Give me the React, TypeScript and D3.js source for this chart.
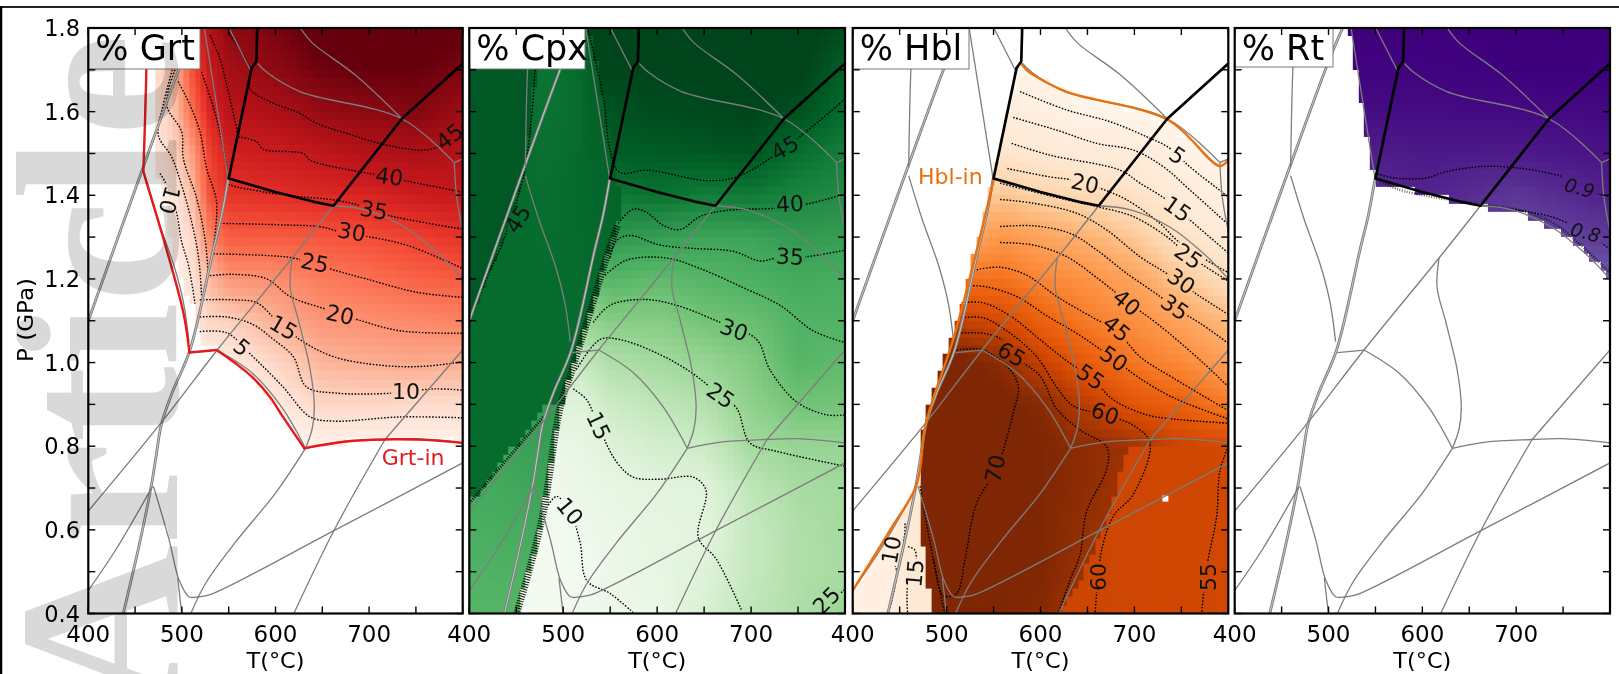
import React, { useMemo } from "react";
import * as d3 from "d3";

type Pt = [number, number];
const FONT = "'DejaVu Sans', sans-serif";

// ---------- shared phase-diagram lines [T, P]
const doubleLines: Pt[][] = [
  [[400, 1.1], [458.6, 1.467], [499, 1.714], [515, 1.8]],
  [[437.4, 0.4], [455, 0.57], [467.7, 0.71], [472, 0.77], [478.4, 0.855], [490, 0.93], [508.6, 1.03], [533.6, 1.27], [542.5, 1.353], [549.6, 1.44]],
];
const reactionLines: Pt[][] = [
  [[465, 1.8], [462, 1.7], [460.5, 1.58], [459.6, 1.467]],
  [[459.6, 1.447], [473.8, 1.344], [491.5, 1.232], [502, 1.14], [507.5, 1.05]],
  [[509.4, 1.024], [538, 1.03]],
  [[400, 0.645], [477.5, 0.855], [537.8, 1.03], [617.8, 1.25], [662, 1.375]],
  [[537.8, 1.03], [575, 0.975], [607, 0.892], [632, 0.795]],
  [[617.8, 1.25], [615.7, 1.18], [625, 1.097], [637, 0.984], [641.5, 0.893], [639, 0.84], [632, 0.795]],
  [[632, 0.795], [600, 0.688], [557, 0.57], [525.5, 0.473], [509.5, 0.4]],
  [[632, 0.795], [667.6, 0.81], [717, 0.816], [749, 0.818], [800, 0.808]],
  [[717, 0.816], [800, 1.03]],
  [[717, 0.816], [664, 0.605], [619.6, 0.4]],
  [[800, 0.76], [664, 0.6], [530, 0.445], [518, 0.44], [507.6, 0.44], [497, 0.48], [486.5, 0.575], [469.6, 0.704]],
  [[495.5, 0.485], [499.8, 0.4]],
  [[400, 0.455], [429.5, 0.553], [468.6, 0.704]],
  [[550.3, 1.8], [573, 1.7]],
  [[581, 1.715], [590.7, 1.694], [626, 1.648], [735, 1.583], [791, 1.478]],
  [[791, 1.478], [800, 1.487]],
  [[791, 1.478], [793.6, 1.395], [800, 1.313]],
  [[626.6, 1.8], [639, 1.765], [685, 1.688], [735, 1.583]],
  [[662, 1.375], [696, 1.365], [738.5, 1.323], [774, 1.26], [800, 1.2]],
  [[524, 1.8], [549.5, 1.44]],
];
const blackLines: Pt[][] = [
  [[580.5, 1.8], [579.5, 1.72], [574.5, 1.704], [550, 1.44], [600, 1.408], [640, 1.385], [662, 1.375], [735, 1.583], [800, 1.715]],
];

// ---------- Grt
const grtContours: Pt[][] = [
  [[551.3, 1.783], [572.7, 1.703], [572.7, 1.655], [594, 1.624], [626, 1.596], [644, 1.572], [676, 1.548], [715, 1.522], [754, 1.508], [772, 1.514], [790, 1.544], [800, 1.568]],
  [[560.3, 1.54], [580, 1.528], [587, 1.51], [629.7, 1.5], [637, 1.484], [690, 1.456], [711.6, 1.448], [736, 1.436], [799, 1.408]],
  [[549.6, 1.426], [558.5, 1.42], [612, 1.4], [665, 1.388], [694, 1.373], [718.7, 1.353], [800, 1.319]],
  [[540.7, 1.333], [612, 1.329], [647.5, 1.325], [669, 1.313], [694, 1.303], [740, 1.281], [800, 1.225]],
  [[533.6, 1.26], [590.6, 1.256], [619, 1.25], [656.5, 1.225], [697, 1.2], [751, 1.168], [800, 1.156]],
  [[526.5, 1.207], [555, 1.211], [590.6, 1.2], [615.5, 1.158], [654.7, 1.127], [690, 1.101], [733, 1.076], [800, 1.07]],
  [[519, 1.15], [555, 1.15], [580, 1.143], [601, 1.101], [626, 1.055], [662, 1.014], [715, 0.993], [758, 0.991], [800, 1.002]],
  [[519, 1.109], [548, 1.109], [576, 1.091], [598, 1.055], [619, 1.014], [633, 0.942], [665, 0.927], [726, 0.927], [769, 0.937], [800, 0.934]],
  [[519, 1.074], [548, 1.071], [576, 1.014], [608, 0.942], [637, 0.87], [662, 0.86], [733, 0.87], [800, 0.868]],
  [[476.6, 1.452], [482, 1.432], [494, 1.36], [499.7, 1.289], [507, 1.233], [514, 1.141]],
  [[489.7, 1.7], [480, 1.616], [474.8, 1.544], [489, 1.492], [499.7, 1.424], [508.6, 1.353], [517.5, 1.257], [521, 1.161]],
  [[492.6, 1.7], [483.7, 1.616], [499.7, 1.552], [501.5, 1.488], [515.7, 1.393], [524.6, 1.297], [528, 1.217]],
  [[496, 1.672], [508.6, 1.616], [519.3, 1.552], [526.4, 1.464], [537, 1.385], [534, 1.281]],
  [[521, 1.695], [531.7, 1.624], [540.6, 1.552], [548.5, 1.464]],
  [[530, 1.783], [540.6, 1.727], [549.5, 1.648], [560, 1.544]],
];
const grtLabels: [string, number, number, number][] = [
  ["10", 486.5, 1.389, 105], ["5", 563.8, 1.036, 40], ["15", 608.4, 1.083, 30], ["20", 669, 1.114, 12],
  ["25", 642, 1.238, 12], ["30", 681.4, 1.312, 10], ["35", 705, 1.364, 10], ["40", 721.6, 1.444, 8],
  ["45", 786, 1.54, -38], ["10", 739.5, 0.93, 0],
];
const grtInSegments: Pt[][] = [
  [[462, 1.8], [462, 1.7], [458.8, 1.457]],
  [[458.8, 1.457], [501.5, 1.12], [508, 1.024]],
  [[508, 1.024], [537, 1.03]],
  [[537, 1.03], [558, 0.997], [576.3, 0.963], [594, 0.918], [608, 0.87], [630.8, 0.795]],
  [[630.8, 0.795], [683, 0.813], [751, 0.816], [800, 0.808]],
];
const grtRegion: Pt[] = [[475, 1.8], [475, 1.72], [473, 1.45], [480, 1.4], [494, 1.22], [512, 1.13], [518, 1.07], [519, 1.04], [537, 1.03], [576, 0.963], [608, 0.87], [631, 0.795], [683, 0.813], [751, 0.816], [800, 0.808], [800, 1.8]];
const grtTemps = [470, 490, 510, 530, 550, 600, 650, 700, 750, 800];
const grtPress = [0.8, 0.9, 1.0, 1.1, 1.2, 1.3, 1.4, 1.5, 1.6, 1.7, 1.8];
const grtValues = [
  [0, 0, 0, 0, 0, 0, 2, 4, 5, 6, 7],
  [0, 0, 0, 1, 1, 2, 4, 8, 10, 12, 14],
  [0, 0, 1, 4, 5, 7, 12, 17, 25, 29, 33],
  [0, 0, 2, 8, 13, 22, 30, 32, 37, 40, 43],
  [0, 0, 3, 9, 19, 28, 34, 38, 42, 45, 48],
  [0, 3, 8, 15, 20, 28, 35, 39, 44, 48, 50],
  [1, 8, 14, 19, 23, 29, 36, 41, 47, 51, 54],
  [1, 8, 15, 20, 25, 30, 37, 43, 48, 52, 55],
  [1, 7, 16, 21, 27, 32, 39, 44, 49, 52, 55],
  [1, 7, 15, 22, 28, 34, 40, 43, 46, 50, 53],
];

// ---------- Cpx
const cpxContours: Pt[][] = [
  [[526, 1.8], [543, 1.63], [549.8, 1.508], [560, 1.455], [590, 1.46], [654, 1.435], [686, 1.445], [736, 1.513], [800, 1.63]],
  [[558.6, 1.333], [574.6, 1.367], [588.8, 1.359], [606.6, 1.328], [624.3, 1.318], [645.6, 1.349], [674, 1.364], [727, 1.369], [755.6, 1.377], [800, 1.403]],
  [[549.8, 1.251], [556.9, 1.292], [571, 1.304], [603, 1.281], [638.5, 1.273], [681, 1.266], [709.5, 1.243], [727, 1.25], [759, 1.253], [800, 1.269]],
  [[544.5, 1.209], [567.5, 1.245], [610, 1.25], [645.6, 1.225], [691.7, 1.179], [730.8, 1.137], [766, 1.076], [800, 1.048]],
  [[532, 1.096], [549.8, 1.137], [585.3, 1.151], [620.8, 1.137], [667, 1.096], [706, 1.055], [720, 0.983], [748.5, 0.906], [780.5, 0.875], [800, 0.875]],
  [[514, 0.983], [539, 1.055], [560.4, 1.055], [603, 1.019], [638.5, 0.973], [667, 0.921], [684.6, 0.891], [698.8, 0.808], [727, 0.788], [800, 0.752]],
  [[510.7, 0.937], [525, 0.911], [537, 0.85], [556.9, 0.762], [574.6, 0.726], [603, 0.721], [638.5, 0.726], [652, 0.695], [643.8, 0.582], [663, 0.53], [690, 0.407]],
  [[484, 0.659], [493, 0.68], [507, 0.644], [517.8, 0.572], [525, 0.479], [549.8, 0.448], [574.6, 0.402]],
  [[769.8, 0.4], [800, 0.458]],
  [[470, 1.7], [466, 1.58], [457.5, 1.446], [436, 1.29], [418, 1.2], [406, 1.13]],
];
const cpxHatch: Pt[][] = [
  [[450.4, 0.4], [464.6, 0.51], [479, 0.644], [497, 0.895], [511, 0.993], [532, 1.146], [546, 1.25], [558, 1.33]],
  [[400, 0.664], [479, 0.87]],
];
const cpxLabels: [string, number, number, number][] = [
  ["45", 452, 1.343, -58], ["45", 736, 1.513, -30], ["40", 741.4, 1.379, -3], ["35", 741.4, 1.253, 3],
  ["30", 681.8, 1.078, 20], ["25", 667.6, 0.921, 35], ["15", 537.4, 0.849, 65], ["10", 507, 0.644, 50], ["25", 780.5, 0.431, -45],
];
const cpxTemps = [480, 520, 550, 600, 650, 700, 750, 800];
const cpxPress = [0.4, 0.5, 0.6, 0.7, 0.8, 0.9, 1.0, 1.1, 1.2, 1.3, 1.4, 1.5, 1.6, 1.7, 1.8];
const cpxValues = [
  [11, 11, 11, 12, 13, 15, 20, 26, 32, 36, 42, 46, 48, 49, 50],
  [12, 11, 12, 13, 14, 16, 20, 26, 30, 35, 42, 46, 48, 50, 51],
  [13, 13, 13, 14, 16, 19, 23, 28, 33, 38, 43, 47, 48, 50, 51],
  [13, 14, 14.5, 15, 18, 21, 24.5, 28, 32, 37, 44, 47, 49, 50, 51],
  [17, 16, 15, 15.5, 19, 22.5, 26, 30, 33, 36, 42.5, 47.5, 49.5, 50, 51],
  [21, 20, 20, 21, 24.5, 27, 28.5, 31, 34, 36, 43, 48, 50, 50.5, 51],
  [23, 23, 23, 24, 26, 30, 33, 33.5, 35, 37.5, 41, 44.5, 48.5, 50.5, 51],
  [26, 24, 24.5, 24.8, 26, 30, 32, 33.5, 34.5, 37, 40, 42, 45, 46.5, 49],
];
const cpxLowRegion: Pt[] = [[400, 0.4], [400, 0.664], [479, 0.89], [497, 0.895], [479, 0.644], [465, 0.51], [450, 0.4]];
const cpxLowTemps = [400, 450, 497];
const cpxLowPress = [0.4, 0.9];
const cpxLowValues = [[33, 36], [33, 37], [34, 38]];
const cpxMidRegion: Pt[] = [[400, 0.664], [479, 0.89], [497, 0.895], [511, 0.993], [532, 1.146], [546, 1.25], [558, 1.33], [565, 1.37], [555, 1.45], [549.8, 1.508], [542.7, 1.63], [526.7, 1.8], [400, 1.8]];
const cpxMidTemps = [400, 450, 480, 510, 530, 565];
const cpxMidPress = [0.7, 1.1, 1.4, 1.6, 1.8];
const cpxMidValues = [
  [45, 45, 45, 45, 45],
  [45, 45, 45, 45, 44.5],
  [45, 45, 44.5, 44, 43.5],
  [45, 45, 45, 44.5, 44.5],
  [45, 45, 45.5, 46, 46.5],
  [45, 45, 46, 47, 47.5],
];
const cpxDarkRegion: Pt[] = [[400, 1.8], [472, 1.8], [470, 1.7], [466, 1.58], [457.5, 1.446], [436, 1.29], [418, 1.2], [406, 1.13], [400, 1.1]];
const cpxDarkTemps = [400, 472];
const cpxDarkPress = [1.1, 1.8];
const cpxDarkValues = [[47.5, 47.5], [47.5, 47.5]];

// ---------- Hbl
const hblContours: Pt[][] = [
  [[578.2, 1.648], [627.9, 1.604], [674, 1.576], [713, 1.54], [738, 1.512], [759, 1.468], [794.8, 1.405], [800, 1.395]],
  [[571, 1.586], [617, 1.556], [660, 1.524], [699, 1.508], [731, 1.468], [759, 1.413], [800, 1.33]],
  [[569.3, 1.524], [610, 1.496], [684.7, 1.46], [706, 1.429], [734.4, 1.389], [759, 1.341], [800, 1.262]],
  [[564.7, 1.464], [610, 1.444], [633, 1.437], [663, 1.417], [692, 1.389], [727, 1.333], [745, 1.293], [773, 1.25], [800, 1.215]],
  [[556.9, 1.429], [592, 1.409], [628, 1.389], [660, 1.373], [699, 1.349], [734.4, 1.301], [757.5, 1.257], [800, 1.195]],
  [[556.9, 1.39], [592.4, 1.381], [638.6, 1.357], [670.5, 1.317], [706, 1.253], [734.4, 1.213], [770, 1.158], [800, 1.115]],
  [[556.9, 1.325], [592.4, 1.327], [631.5, 1.309], [660, 1.269], [692, 1.213], [727.3, 1.158], [743, 1.13], [770, 1.094], [800, 1.046]],
  [[556.9, 1.287], [592.4, 1.281], [628, 1.253], [663.4, 1.197], [692, 1.146], [723.7, 1.094], [770, 1.006], [800, 0.942]],
  [[532, 1.222], [556.9, 1.228], [585.3, 1.209], [617.3, 1.158], [656.3, 1.107], [681, 1.076], [706, 1.014], [741.5, 0.963], [800, 0.885]],
  [[521.4, 1.184], [542.7, 1.181], [574.6, 1.158], [606.6, 1.112], [642, 1.065], [677.6, 1.009], [706, 0.962], [741.5, 0.916], [800, 0.865]],
  [[516, 1.143], [539, 1.143], [567.5, 1.112], [599.5, 1.055], [628, 1.004], [654.5, 0.963], [677.6, 0.911], [713, 0.875], [741.5, 0.865], [800, 0.855]],
  [[516, 1.107], [539, 1.107], [564, 1.076], [596, 1.014], [617, 0.942], [635, 0.896], [668.7, 0.875], [698.8, 0.85], [716.6, 0.808], [698.8, 0.685], [677.6, 0.633], [665, 0.551], [661.6, 0.49], [658, 0.4]],
  [[509, 1.07], [539, 1.07], [558.6, 1.055], [569, 1.02], [599.5, 0.968], [617, 0.89], [642, 0.839], [670.5, 0.798], [670.5, 0.746], [649, 0.643], [642, 0.54], [631.4, 0.48], [619, 0.4]],
  [[510.7, 1.03], [539, 1.03], [567.5, 0.983], [576.4, 0.942], [571, 0.88], [553.3, 0.746], [532, 0.664], [519.6, 0.53], [510.7, 0.448], [496.5, 0.443], [485.9, 0.53], [471.7, 0.705]],
  [[485.9, 0.53], [498, 0.4]],
  [[800, 0.8], [791, 0.74], [787.6, 0.633], [777, 0.51], [771.6, 0.4]],
  [[455.7, 0.615], [453.9, 0.576], [441.5, 0.552], [446.8, 0.496], [437.9, 0.4]],
  [[459, 0.56], [466, 0.552], [468, 0.528], [466, 0.496], [459, 0.472], [458.5, 0.4]],
];
const hblLabels: [string, number, number, number][] = [
  ["5", 745.7, 1.495, 35], ["15", 745.7, 1.367, 35], ["20", 647.4, 1.428, 12], ["25", 757.4, 1.254, 35],
  ["30", 750, 1.194, 35], ["35", 743, 1.132, 35], ["40", 691.7, 1.143, 40], ["45", 681, 1.081, 40],
  ["50", 678, 1.009, 35], ["55", 653.4, 0.965, 35], ["60", 668.7, 0.878, 20], ["65", 569, 1.019, 30],
  ["70", 552, 0.746, -78], ["60", 661.6, 0.487, -90], ["55", 779, 0.487, -90], ["10", 441.5, 0.552, -80], ["15", 466.3, 0.496, -85],
];
const hblInLines: Pt[][] = [
  [[400, 0.455], [440, 0.6], [468, 0.708], [478, 0.855], [509, 1.07], [550.5, 1.44]],
  [[579, 1.717], [586, 1.698], [596, 1.683], [628, 1.647], [736, 1.58], [791, 1.47], [800, 1.485]],
];
const hblRegion: Pt[] = [[575, 1.7], [579, 1.717], [596, 1.683], [628, 1.647], [736, 1.58], [791, 1.47], [800, 1.485], [800, 0.4], [490, 0.4], [483.3, 0.42], [477, 0.54], [472, 0.61], [470, 0.72], [476, 0.86], [508, 1.07], [550, 1.44]];
const hblTemps = [480, 520, 560, 600, 650, 700, 750, 800];
const hblPress = [0.4, 0.5, 0.6, 0.7, 0.8, 0.9, 1.0, 1.1, 1.2, 1.3, 1.4, 1.5, 1.6, 1.7, 1.8];
const hblValues = [
  [72, 72, 72, 72, 72, 72, 72, 66, 52, 40, 28, 14, 6, 0, 0],
  [70, 70, 71, 72, 72, 72, 71, 60.5, 48, 36, 26, 14, 6, 0, 0],
  [70, 70, 70, 71, 72, 71, 68, 58, 48, 40, 28, 17, 9, 3, 0],
  [69, 70, 70, 70, 70, 69, 61, 52, 44, 37, 25, 15, 6, 2, 0],
  [65, 66, 67, 68, 68, 62, 53, 46, 41, 33, 22.5, 12, 1, 0, 0],
  [63, 64, 65, 65, 66, 55, 47, 42, 37, 28, 19, 11, 0, 0, 0],
  [60, 60, 60, 60, 60, 52, 43, 37, 28, 19, 12, 4, 0, 0, 0],
  [59, 59, 59, 59, 59, 46, 38, 31, 21, 12, 4, 0, 0, 0, 0],
];
const hblLeftRegion: Pt[] = [[400, 0.4], [400, 0.455], [468, 0.705], [470, 0.72], [472, 0.61], [477, 0.54], [483.3, 0.42], [490, 0.4]];
const hblLeftTemps = [400, 440, 460, 490];
const hblLeftPress = [0.4, 0.7];
const hblLeftValues = [[5, 5], [7, 7], [14, 14], [15, 15]];
const hblLowRegion: Pt[] = [[695, 0.806], [681, 0.7], [667, 0.607], [635, 0.45], [617, 0.4], [800, 0.4], [800, 0.81]];
const hblLowTemps = [617, 700, 800];
const hblLowPress = [0.4, 0.8];
const hblLowValues = [[60, 60], [59.5, 59.5], [59, 59]];
const hblNormDomain = [0, 15, 20, 25, 30, 35, 40, 45, 50, 55, 60, 65, 70];
const hblNormRange = [0, 0.1, 0.16, 0.22, 0.31, 0.39, 0.46, 0.54, 0.63, 0.7, 0.78, 0.88, 1];
const hblHoles: Pt[] = [[733, 0.675]];

// ---------- Rt
const rtContours: Pt[][] = [
  [[552, 1.451], [571.6, 1.441], [603.5, 1.441], [625, 1.456], [664, 1.469], [703, 1.465], [738.5, 1.451], [753, 1.441], [767, 1.418], [800, 1.397]],
  [[662, 1.376], [703, 1.364], [738.5, 1.348], [760, 1.328], [774, 1.312], [800, 1.271]],
];
const rtHatch: Pt[][] = [
  [[552, 1.44], [573, 1.415], [662, 1.378], [703, 1.365], [738.5, 1.335], [767, 1.285], [800, 1.215]],
];
const rtLabels: [string, number, number, number][] = [["0.9", 767.7, 1.418, 15], ["0.8", 774, 1.312, 15]];
const rtRegion: Pt[] = [[521, 1.8], [526, 1.73], [540, 1.56], [549, 1.43], [600, 1.405], [662, 1.372], [700, 1.36], [740, 1.32], [770, 1.27], [800, 1.2], [800, 1.8]];
const rtTemps = [520, 600, 700, 800];
const rtPress = [1.2, 1.3, 1.4, 1.5, 1.6, 1.7, 1.8];
const rtValues = [
  [0.8, 0.8, 0.85, 0.9, 0.96, 0.99, 1],
  [0.85, 0.87, 0.89, 0.92, 0.965, 0.99, 1],
  [0.72, 0.76, 0.83, 0.915, 0.97, 1, 1],
  [0.72, 0.82, 0.9, 0.94, 0.975, 1, 1],
];

const xTickLabels = [400, 500, 600, 700];
const xTicks = [400, 450, 500, 550, 600, 650, 700, 750, 800];
const yTicks = [0.4, 0.5, 0.6, 0.7, 0.8, 0.9, 1.0, 1.1, 1.2, 1.3, 1.4, 1.5, 1.6, 1.7, 1.8];
const yTickLabels = [0.4, 0.6, 0.8, 1.0, 1.2, 1.4, 1.6, 1.8];

// ---------- layout
const TOP = 28, BOTTOM = 613.5, CELL_T = 6, CELL_P = 0.02;
const panelBoxes = [
  { left: 88.3, right: 462.7, boxRight: 200 },
  { left: 469.3, right: 845, boxRight: 585 },
  { left: 852.7, right: 1228.3, boxRight: 969 },
  { left: 1234.7, right: 1610, boxRight: 1333 },
];

type Layer = { region: Pt[] | null; temps: number[]; press: number[]; values: number[][] };

function sample(l: Layer, T: number, P: number) {
  const col = l.values.map((row) => d3.scaleLinear(l.press, row).clamp(true)(P));
  return d3.scaleLinear(l.temps, col).clamp(true)(T);
}

function heatImage(layers: Layer[], color: (v: number) => string, box: { left: number; right: number }, holes: Pt[] = []) {
  const W = Math.round(box.right - box.left), H = Math.round(BOTTOM - TOP);
  const x = d3.scaleLinear([400, 800], [0, W]);
  const y = d3.scaleLinear([0.4, 1.8], [H, 0]);
  const off = document.createElement("canvas");
  off.width = W; off.height = H;
  const c = off.getContext("2d")!;
  for (const l of layers) {
    for (let T = 400; T < 800; T += CELL_T) {
      for (let P = 0.4; P < 1.8; P += CELL_P) {
        const tc = T + CELL_T / 2, pc = P + CELL_P / 2;
        if (l.region && !d3.polygonContains(l.region, [tc, pc])) continue;
        c.fillStyle = color(sample(l, tc, pc));
        const x0 = Math.round(x(T)), x1 = Math.round(x(T + CELL_T));
        const y0 = Math.round(y(P + CELL_P)), y1 = Math.round(y(P));
        c.fillRect(x0, y0, x1 - x0, y1 - y0);
      }
    }
  }
  c.fillStyle = "#fff";
  for (const h of holes) c.fillRect(x(h[0]) - 3, y(h[1]) - 3, 6, 6);
  const out = document.createElement("canvas");
  out.width = W; out.height = H;
  const o = out.getContext("2d")!;
  (o as any).filter = "blur(0.7px)";
  o.drawImage(off, 0, 0);
  return out.toDataURL();
}

type PanelSpec = {
  title: string;
  layers: Layer[];
  color: (v: number) => string;
  contours: Pt[][];
  hatch?: Pt[][];
  labels: [string, number, number, number][];
  labelSize?: number;
  extra?: { pts: Pt[]; color: string }[];
  holes?: Pt[];
  note?: { text: string; T: number; P: number; color: string };
};

const hblNorm = d3.scaleLinear(hblNormDomain, hblNormRange).clamp(true);

const specs: PanelSpec[] = [
  {
    title: "% Grt",
    layers: [{ region: grtRegion, temps: grtTemps, press: grtPress, values: grtValues }],
    color: (v) => d3.interpolateReds(v / 52),
    contours: grtContours,
    labels: grtLabels,
    extra: grtInSegments.map((pts) => ({ pts, color: "#e41a1c" })),
    note: { text: "Grt-in", T: 747, P: 0.772, color: "#e41a1c" },
  },
  {
    title: "% Cpx",
    layers: [
      { region: null, temps: cpxTemps, press: cpxPress, values: cpxValues },
      { region: cpxLowRegion, temps: cpxLowTemps, press: cpxLowPress, values: cpxLowValues },
      { region: cpxMidRegion, temps: cpxMidTemps, press: cpxMidPress, values: cpxMidValues },
      { region: cpxDarkRegion, temps: cpxDarkTemps, press: cpxDarkPress, values: cpxDarkValues },
    ],
    color: (v) => d3.interpolateGreens((v - 10) / 40),
    contours: cpxContours,
    hatch: cpxHatch,
    labels: cpxLabels,
  },
  {
    title: "% Hbl",
    layers: [
      { region: hblRegion, temps: hblTemps, press: hblPress, values: hblValues },
      { region: hblLowRegion, temps: hblLowTemps, press: hblLowPress, values: hblLowValues },
      { region: hblLeftRegion, temps: hblLeftTemps, press: hblLeftPress, values: hblLeftValues },
    ],
    color: (v) => d3.interpolateOranges(hblNorm(v)),
    contours: hblContours,
    labels: hblLabels,
    extra: hblInLines.map((pts) => ({ pts, color: "#e8700f" })),
    holes: hblHoles,
    note: { text: "Hbl-in", T: 504, P: 1.446, color: "#e8700f" },
  },
  {
    title: "% Rt",
    layers: [{ region: rtRegion, temps: rtTemps, press: rtPress, values: rtValues }],
    color: (v) => d3.interpolatePurples(v),
    contours: rtContours,
    hatch: rtHatch,
    labels: rtLabels,
    labelSize: 19,
  },
];

function Panel({ spec, index }: { spec: PanelSpec; index: number }) {
  const box = panelBoxes[index];
  const x = d3.scaleLinear([400, 800], [box.left, box.right]);
  const y = d3.scaleLinear([0.4, 1.8], [BOTTOM, TOP]);
  const curve = d3.line<Pt>().x((d) => x(d[0])).y((d) => y(d[1])).curve(d3.curveCatmullRom.alpha(0.5));
  const straight = d3.line<Pt>().x((d) => x(d[0])).y((d) => y(d[1]));
  const url = useMemo(() => heatImage(spec.layers, spec.color, box, spec.holes), [index]);
  const fs = spec.labelSize ?? 22;
  const maskId = `gap${index}`;
  const clipId = `clip${index}`;
  return (
    <g>
      <defs>
        <clipPath id={clipId}>
          <rect x={box.left} y={TOP} width={box.right - box.left} height={BOTTOM - TOP} />
        </clipPath>
        <mask id={maskId} maskUnits="userSpaceOnUse" x={0} y={0} width={1619} height={674}>
          <rect x={0} y={0} width={1619} height={674} fill="#fff" />
          {spec.labels.map((l, i) => {
            const w = l[0].length * fs * 0.62 + 3;
            return (
              <rect key={i} x={-w / 2} y={-fs * 0.42} width={w} height={fs * 0.84} fill="#000"
                transform={`translate(${x(l[1])},${y(l[2])}) rotate(${l[3]})`} />
            );
          })}
        </mask>
      </defs>
      <image href={url} x={box.left} y={TOP} width={box.right - box.left} height={BOTTOM - TOP} preserveAspectRatio="none" />
      <g clipPath={`url(#${clipId})`}>
        <g mask={`url(#${maskId})`} fill="none" stroke="#000" strokeWidth={1.4} strokeDasharray="1.6 1.6">
          {spec.contours.map((c, i) => <path key={i} d={curve(c)!} />)}
        </g>
        {(spec.hatch ?? []).map((c, i) => (
          <path key={i} d={curve(c)!} fill="none" stroke="#000" strokeWidth={index === 3 ? 2.5 : i === 0 ? 7 : 3} strokeDasharray="1 1.5" opacity={index === 3 ? 0.6 : 0.9} />
        ))}
        {doubleLines.map((c, i) => (
          <g key={i} fill="none">
            <path d={curve(c)!} stroke="#7d7d7d" strokeWidth={2.8} />
            <path d={curve(c)!} stroke="#fff" strokeWidth={0.9} opacity={0.65} />
          </g>
        ))}
        {reactionLines.map((c, i) => <path key={i} d={curve(c)!} fill="none" stroke="#7d7d7d" strokeWidth={1.3} />)}
        {(spec.extra ?? []).map((e, i) => <path key={i} d={curve(e.pts)!} fill="none" stroke={e.color} strokeWidth={2.4} strokeLinecap="round" />)}
        {blackLines.map((c, i) => <path key={i} d={straight(c)!} fill="none" stroke="#000" strokeWidth={2.7} strokeLinejoin="round" />)}
        {spec.labels.map((l, i) => (
          <text key={i} x={0} y={0} transform={`translate(${x(l[1])},${y(l[2])}) rotate(${l[3]})`}
            fontFamily={FONT} fontSize={fs} textAnchor="middle" dominantBaseline="central" fill="#111"
            fontStyle={index === 3 ? "italic" : "normal"}>{l[0]}</text>
        ))}
        {spec.note && (
          <text x={x(spec.note.T)} y={y(spec.note.P)} fontFamily={FONT} fontSize={22} textAnchor="middle"
            dominantBaseline="central" fill={spec.note.color}>{spec.note.text}</text>
        )}
      </g>
      <rect x={box.left} y={TOP} width={box.boxRight - box.left} height={index === 3 ? 39 : 41} fill="#fff" stroke="#777" strokeWidth={1} />
      <text x={box.left + 7} y={TOP + 32} fontFamily={FONT} fontSize={35} fill="#000">{spec.title}</text>
      <rect x={box.left} y={TOP} width={box.right - box.left} height={BOTTOM - TOP} fill="none" stroke="#000" strokeWidth={2.2} />
      {xTicks.map((t) => (
        <g key={t} stroke="#000" strokeWidth={1.4}>
          <line x1={x(t)} x2={x(t)} y1={BOTTOM} y2={BOTTOM - 7} />
          <line x1={x(t)} x2={x(t)} y1={TOP} y2={TOP + 7} />
        </g>
      ))}
      {yTicks.map((p) => (
        <g key={p} stroke="#000" strokeWidth={1.4}>
          <line x1={box.left} x2={box.left + 7} y1={y(p)} y2={y(p)} />
          <line x1={box.right} x2={box.right - 7} y1={y(p)} y2={y(p)} />
        </g>
      ))}
      {xTickLabels.map((t) => (
        <text key={t} x={x(t)} y={634} fontFamily={FONT} fontSize={23} textAnchor="middle" dominantBaseline="central" fill="#000">{t}</text>
      ))}
      <text x={(box.left + box.right) / 2} y={660} fontFamily={FONT} fontSize={22} textAnchor="middle" dominantBaseline="central" fill="#000" textLength={58} lengthAdjust="spacingAndGlyphs">T(°C)</text>
      {index === 0 && yTickLabels.map((p) => (
        <text key={p} x={80} y={y(p)} fontFamily={FONT} fontSize={22.5} textAnchor="end" dominantBaseline="central" fill="#000">{p.toFixed(1)}</text>
      ))}
      {index === 0 && (
        <text transform="translate(26,320) rotate(-90)" fontFamily={FONT} fontSize={21} textAnchor="middle" dominantBaseline="central" fill="#000" textLength={84} lengthAdjust="spacingAndGlyphs">P (GPa)</text>
      )}
    </g>
  );
}

export default function App() {
  return (
    <svg width={1619} height={674} style={{ position: "absolute", left: 0, top: 0, display: "block", background: "#fff" }}>
      {specs.map((s, i) => <Panel key={s.title} spec={s} index={i} />)}
      <text transform="translate(177,711) rotate(-90)" fontFamily="'Liberation Serif', serif" fontWeight="bold" fontSize={230}
        fill="#d9d9d9" style={{ mixBlendMode: "multiply" }}>Article</text>
      <line x1={0} x2={1619} y1={7} y2={7} stroke="#222" strokeWidth={2} />
      <line x1={1} x2={1} y1={6} y2={674} stroke="#000" strokeWidth={2.5} />
    </svg>
  );
}
